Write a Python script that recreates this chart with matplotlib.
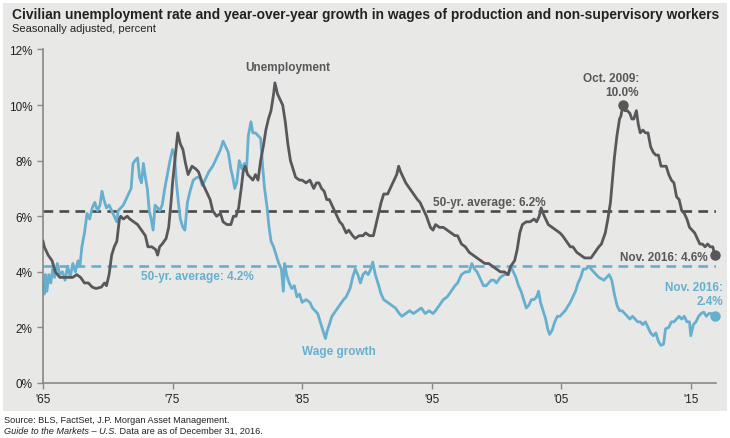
import matplotlib
matplotlib.use("Agg")
import matplotlib.pyplot as plt
from matplotlib.patches import Rectangle

# unemployment rate, percent (decimal year, value)
unemp_years = [1965.0, 1965.1, 1965.4, 1965.7, 1965.95, 1966.3, 1966.7, 1967.0, 1967.3, 1967.6, 1967.9,
               1968.2, 1968.5, 1968.8, 1969.1, 1969.5, 1969.75, 1969.9, 1970.1, 1970.3, 1970.5, 1970.7,
               1970.9, 1971.0, 1971.2, 1971.5, 1971.7, 1972.0, 1972.3, 1972.6, 1972.9, 1973.1, 1973.4,
               1973.7, 1973.85, 1974.0, 1974.2, 1974.5, 1974.7, 1974.9, 1975.0, 1975.2, 1975.4, 1975.6,
               1975.8, 1976.0, 1976.2, 1976.5, 1976.8, 1977.0, 1977.3, 1977.6, 1977.9, 1978.1, 1978.4,
               1978.7, 1978.9, 1979.2, 1979.5, 1979.7, 1979.9, 1980.1, 1980.3, 1980.45, 1980.6, 1980.8,
               1981.0, 1981.2, 1981.4, 1981.6, 1981.8, 1982.0, 1982.2, 1982.4, 1982.6, 1982.8, 1982.9,
               1983.1, 1983.3, 1983.5, 1983.7, 1983.9, 1984.1, 1984.3, 1984.5, 1984.8, 1985.0, 1985.3,
               1985.6, 1985.9, 1986.1, 1986.3, 1986.5, 1986.7, 1986.9, 1987.1, 1987.4, 1987.7, 1987.9,
               1988.1, 1988.4, 1988.6, 1988.9, 1989.1, 1989.4, 1989.7, 1989.9, 1990.2, 1990.5, 1990.7,
               1990.9, 1991.1, 1991.3, 1991.6, 1991.9, 1992.1, 1992.3, 1992.45, 1992.6, 1992.8, 1993.0,
               1993.3, 1993.6, 1993.9, 1994.1, 1994.3, 1994.6, 1994.9, 1995.1, 1995.3, 1995.6, 1995.9,
               1996.2, 1996.5, 1996.8, 1997.0, 1997.3, 1997.6, 1997.9, 1998.2, 1998.5, 1998.8, 1999.1,
               1999.4, 1999.7, 2000.0, 2000.3, 2000.6, 2000.9, 2001.1, 2001.4, 2001.6, 2001.8, 2002.0,
               2002.3, 2002.6, 2002.9, 2003.1, 2003.3, 2003.45, 2003.6, 2003.8, 2004.0, 2004.3, 2004.6,
               2004.9, 2005.1, 2005.4, 2005.7, 2005.9, 2006.2, 2006.5, 2006.8, 2007.0, 2007.3, 2007.6,
               2007.9, 2008.1, 2008.4, 2008.6, 2008.8, 2008.95, 2009.1, 2009.3, 2009.5, 2009.6, 2009.77,
               2009.9, 2010.1, 2010.3, 2010.45, 2010.6, 2010.8, 2010.95, 2011.1, 2011.3, 2011.5, 2011.7,
               2011.9, 2012.1, 2012.3, 2012.5, 2012.7, 2012.9, 2013.1, 2013.3, 2013.5, 2013.7, 2013.9,
               2014.1, 2014.3, 2014.5, 2014.7, 2014.9, 2015.1, 2015.3, 2015.5, 2015.7, 2015.9, 2016.1,
               2016.3, 2016.5, 2016.7, 2016.85]
unemp = [5.1, 4.9, 4.6, 4.4, 4.0, 3.8, 3.8, 3.8, 3.8, 3.9, 3.8,
         3.6, 3.6, 3.45, 3.4, 3.45, 3.6, 3.5, 3.9, 4.6, 4.9, 5.1,
         5.9, 6.0, 5.9, 6.0, 5.9, 5.8, 5.7, 5.5, 5.3, 4.9, 4.9,
         4.8, 4.6, 4.9, 5.0, 5.2, 5.6, 6.6, 7.2, 8.1, 9.0, 8.6,
         8.4, 7.9, 7.5, 7.8, 7.7, 7.6, 7.2, 6.9, 6.6, 6.2, 6.0,
         6.1, 5.8, 5.7, 5.7, 6.0, 6.0, 6.3, 7.0, 7.6, 7.8, 7.5,
         7.4, 7.3, 7.5, 7.3, 8.0, 8.5, 9.1, 9.5, 9.8, 10.4, 10.8,
         10.4, 10.2, 10.0, 9.4, 8.6, 8.0, 7.7, 7.4, 7.3, 7.3, 7.2,
         7.3, 7.0, 7.2, 7.2, 7.0, 6.9, 6.6, 6.6, 6.3, 6.0, 5.8,
         5.7, 5.4, 5.5, 5.3, 5.2, 5.3, 5.3, 5.4, 5.3, 5.3, 5.7,
         6.1, 6.5, 6.8, 6.8, 7.1, 7.3, 7.5, 7.8, 7.6, 7.4, 7.2,
         7.0, 6.8, 6.6, 6.5, 6.3, 6.0, 5.6, 5.5, 5.7, 5.6, 5.6,
         5.5, 5.4, 5.3, 5.3, 5.0, 4.9, 4.7, 4.6, 4.5, 4.4, 4.3,
         4.3, 4.2, 4.1, 4.0, 4.0, 3.9, 4.2, 4.4, 4.8, 5.4, 5.7,
         5.8, 5.8, 5.9, 5.8, 6.0, 6.3, 6.1, 5.9, 5.7, 5.6, 5.5,
         5.4, 5.3, 5.1, 4.9, 4.9, 4.7, 4.6, 4.5, 4.5, 4.5, 4.7,
         4.9, 5.0, 5.4, 5.9, 6.5, 7.3, 8.1, 8.9, 9.5, 9.6, 10.0,
         9.8, 9.8, 9.7, 9.5, 9.5, 9.8, 9.3, 9.0, 9.1, 9.0, 9.0,
         8.5, 8.3, 8.2, 8.2, 7.8, 7.8, 7.8, 7.5, 7.3, 7.2, 6.7,
         6.6, 6.2, 6.1, 5.9, 5.6, 5.5, 5.4, 5.2, 5.0, 5.0, 4.9,
         5.0, 4.9, 4.9, 4.6]

# year-over-year wage growth, percent
wage_years = [1965.0, 1965.1, 1965.2, 1965.3, 1965.45, 1965.6, 1965.75, 1965.9, 1966.1, 1966.3, 1966.5,
              1966.7, 1966.9, 1967.1, 1967.3, 1967.5, 1967.7, 1967.85, 1968.0, 1968.2, 1968.4, 1968.6,
              1968.8, 1969.0, 1969.2, 1969.4, 1969.55, 1969.7, 1969.9, 1970.1, 1970.3, 1970.5, 1970.7,
              1970.8, 1971.0, 1971.2, 1971.4, 1971.6, 1971.8, 1971.95, 1972.1, 1972.3, 1972.45, 1972.6,
              1972.75, 1972.9, 1973.05, 1973.2, 1973.35, 1973.5, 1973.65, 1973.85, 1974.0, 1974.2, 1974.4,
              1974.6, 1974.8, 1975.0, 1975.15, 1975.3, 1975.45, 1975.6, 1975.8, 1975.95, 1976.15, 1976.35,
              1976.6, 1976.9, 1977.1, 1977.3, 1977.5, 1977.8, 1978.1, 1978.4, 1978.7, 1978.9, 1979.1,
              1979.3, 1979.5, 1979.65, 1979.8, 1979.95, 1980.15, 1980.35, 1980.55, 1980.7, 1980.85, 1981.05,
              1981.2, 1981.4, 1981.6, 1981.8, 1981.95, 1982.1, 1982.3, 1982.45, 1982.6, 1982.8, 1983.0,
              1983.2, 1983.4, 1983.55, 1983.65, 1983.8, 1984.0, 1984.2, 1984.4, 1984.6, 1984.8, 1985.0,
              1985.3, 1985.6, 1985.8, 1986.0, 1986.2, 1986.4, 1986.6, 1986.8, 1986.95, 1987.1, 1987.3,
              1987.6, 1987.9, 1988.2, 1988.4, 1988.7, 1988.9, 1989.1, 1989.3, 1989.5, 1989.7, 1989.9,
              1990.1, 1990.3, 1990.45, 1990.65, 1990.85, 1991.1, 1991.3, 1991.6, 1991.9, 1992.2, 1992.5,
              1992.7, 1993.0, 1993.3, 1993.6, 1993.9, 1994.2, 1994.5, 1994.8, 1995.1, 1995.3, 1995.6,
              1995.9, 1996.2, 1996.5, 1996.8, 1997.0, 1997.3, 1997.6, 1997.9, 1998.1, 1998.3, 1998.5,
              1998.8, 1999.0, 1999.2, 1999.4, 1999.6, 1999.8, 2000.0, 2000.3, 2000.6, 2000.9, 2001.1,
              2001.3, 2001.5, 2001.7, 2001.9, 2002.1, 2002.3, 2002.5, 2002.7, 2002.9, 2003.1, 2003.25,
              2003.4, 2003.6, 2003.8, 2003.95, 2004.1, 2004.3, 2004.5, 2004.7, 2004.9, 2005.1, 2005.3,
              2005.5, 2005.7, 2005.9, 2006.1, 2006.3, 2006.5, 2006.7, 2006.9, 2007.1, 2007.3, 2007.5,
              2007.7, 2007.9, 2008.1, 2008.3, 2008.5, 2008.7, 2008.9, 2009.1, 2009.3, 2009.5, 2009.7,
              2009.9, 2010.1, 2010.3, 2010.5, 2010.7, 2010.9, 2011.1, 2011.3, 2011.5, 2011.7, 2011.9,
              2012.1, 2012.3, 2012.5, 2012.7, 2012.9, 2013.05, 2013.3, 2013.5, 2013.7, 2013.9, 2014.1,
              2014.3, 2014.5, 2014.7, 2014.9, 2015.0, 2015.2, 2015.4, 2015.6, 2015.8, 2016.0, 2016.2,
              2016.4, 2016.6, 2016.85]
wage = [3.5, 3.2, 3.9, 3.3, 3.9, 3.6, 4.1, 3.8, 4.3, 3.9, 4.0,
        3.7, 4.2, 3.8, 4.3, 4.0, 4.4, 4.2, 4.9, 5.4, 6.1, 5.9,
        6.3, 6.5, 6.2, 6.4, 6.9, 6.6, 6.3, 6.4, 6.2, 6.0, 5.8,
        6.2, 6.3, 6.4, 6.6, 6.8, 7.0, 7.9, 8.0, 8.1, 7.4, 7.2,
        7.9, 7.4, 7.0, 6.2, 5.9, 5.5, 6.4, 6.3, 6.2, 6.4, 7.0,
        7.5, 8.0, 8.4, 8.2, 7.2, 6.5, 5.9, 5.6, 5.5, 6.5, 6.9,
        7.3, 7.4, 7.4, 7.1, 7.3, 7.6, 7.8, 8.1, 8.4, 8.7, 8.5,
        8.3, 7.7, 7.4, 7.0, 7.2, 8.0, 7.7, 7.9, 7.6, 8.9, 9.4,
        9.0, 9.0, 8.9, 8.8, 7.8, 7.0, 6.3, 5.6, 5.1, 4.9, 4.6,
        4.3, 4.1, 3.3, 4.3, 3.9, 3.6, 3.4, 3.5, 3.1, 3.2, 2.9,
        3.0, 2.9, 2.7, 2.6, 2.5, 2.2, 1.9, 1.6, 1.9, 2.1, 2.4,
        2.6, 2.8, 3.0, 3.1, 3.4, 3.8, 4.1, 3.9, 3.6, 3.9, 4.0,
        3.9, 4.1, 4.35, 3.9, 3.6, 3.2, 3.0, 2.9, 2.8, 2.7, 2.5,
        2.4, 2.5, 2.6, 2.5, 2.6, 2.7, 2.5, 2.6, 2.5, 2.6, 2.8,
        3.0, 3.1, 3.3, 3.5, 3.6, 3.9, 4.0, 4.0, 4.3, 4.1, 4.0,
        3.7, 3.5, 3.5, 3.6, 3.7, 3.7, 3.6, 3.8, 3.9, 3.9, 4.2,
        4.0, 3.8, 3.5, 3.3, 3.0, 2.7, 2.8, 3.0, 3.0, 3.1, 3.3,
        2.9, 2.6, 2.3, 1.95, 1.75, 1.9, 2.2, 2.4, 2.4, 2.5, 2.6,
        2.75, 2.9, 3.1, 3.3, 3.6, 3.8, 4.1, 4.1, 4.2, 4.1, 4.0,
        3.9, 3.8, 3.75, 3.7, 3.8, 3.9, 3.7, 3.2, 2.8, 2.6, 2.6,
        2.5, 2.4, 2.3, 2.4, 2.3, 2.2, 2.2, 2.1, 2.2, 2.0, 1.8,
        1.7, 1.8, 1.5, 1.35, 1.4, 1.95, 2.0, 2.2, 2.2, 2.3, 2.4,
        2.3, 2.4, 2.2, 2.2, 1.7, 2.1, 2.2, 2.4, 2.5, 2.55, 2.4,
        2.5, 2.5, 2.4]

unemp_avg = 6.2
wage_avg = 4.2
peak_year, peak_value = 2009.77, 10.0
last_year = 2016.85
tick_years = [1965, 1975, 1985, 1995, 2005, 2015]
tick_labels = ["'65", "'75", "'85", "'95", "'05", "'15"]
y_ticks = [0, 2, 4, 6, 8, 10, 12]

GRAY = "#58585a"
BLUE = "#67afcf"
TXT = "#222222"

plt.rcParams["font.family"] = ["Liberation Sans", "DejaVu Sans"]
plt.rcParams["lines.scale_dashes"] = False

fig = plt.figure(figsize=(7.30, 4.39), dpi=100)
fig.patch.set_facecolor("white")
fig.patches.append(Rectangle((0.004, 0.0626), 0.992, 0.928, transform=fig.transFigure,
                             facecolor="#e8e8e6", edgecolor="none", zorder=-10))

ax = fig.add_axes([0.0589, 0.1253, 0.922, 0.7597])
ax.set_facecolor("none")

ax.axhline(unemp_avg, color="#4a4a4a", lw=1.9, dashes=(7, 4.5), zorder=1)
ax.axhline(wage_avg, color=BLUE, lw=1.9, dashes=(7, 4.5), zorder=1)
ax.plot(unemp_years, unemp, color=GRAY, lw=2.0, zorder=3)
ax.plot(wage_years, wage, color=BLUE, lw=2.0, zorder=2)

ax.plot(peak_year, peak_value, "o", color=GRAY, ms=6.5, zorder=4, clip_on=False)
ax.plot(last_year, unemp[-1], "o", color=GRAY, ms=6.5, zorder=4, clip_on=False)
ax.plot(last_year, wage[-1], "o", color=BLUE, ms=6.5, zorder=4, clip_on=False)

ax.set_xlim(1965, 2016.95)
ax.set_ylim(0, 12)
ax.set_xticks(tick_years)
ax.set_xticklabels(tick_labels)
ax.set_yticks(y_ticks)
ax.set_yticklabels([f"{v}%" for v in y_ticks])
ax.tick_params(axis="both", labelsize=8.5, colors="#888888", labelcolor=TXT, length=4, width=1)
ax.tick_params(axis="x", pad=3)
for side in ["top", "right"]:
    ax.spines[side].set_visible(False)
for side in ["left", "bottom"]:
    ax.spines[side].set_color("#888888")
    ax.spines[side].set_linewidth(1.2)

bold = dict(fontsize=8.5, fontweight="bold")
ax.text(1983.9, 11.37, "Unemployment", color=GRAY, ha="center", va="center", **bold)
ax.text(2011.0, 10.72, "Oct. 2009:\n10.0%", color=GRAY, ha="right", va="center",
        multialignment="right", linespacing=1.25, **bold)
ax.text(1995.1, 6.51, "50-yr. average: 6.2%", color=GRAY, ha="left", va="center", **bold)
ax.text(2016.3, 4.53, "Nov. 2016: 4.6%", color=GRAY, ha="right", va="center", **bold)
ax.text(1972.6, 3.85, "50-yr. average: 4.2%", color=BLUE, ha="left", va="center", **bold)
ax.text(1985.0, 1.15, "Wage growth", color=BLUE, ha="left", va="center", **bold)
ax.text(2017.5, 3.2, "Nov. 2016:\n2.4%", color=BLUE, ha="right", va="center",
        multialignment="right", linespacing=1.25, clip_on=False, **bold)

fig.text(0.016, 0.966, "Civilian unemployment rate and year-over-year growth in wages of production "
         "and non-supervisory workers", fontsize=9.9, fontweight="bold", color=TXT, va="center")
fig.text(0.016, 0.934, "Seasonally adjusted, percent", fontsize=8, color=TXT, va="center")

fig.text(0.006, 0.043, "Source: BLS, FactSet, J.P. Morgan Asset Management.", fontsize=6.6,
         color=TXT, va="center")
guide = fig.text(0.006, 0.018, "Guide to the Markets \u2013 U.S.", fontsize=6.6, style="italic",
                 color=TXT, va="center")
fig.canvas.draw()
ext = guide.get_window_extent()
fig.text(ext.x1 / fig.bbox.width, 0.018, " Data are as of December 31, 2016.", fontsize=6.6,
         color=TXT, va="center")

fig.savefig("out.png", dpi=100, facecolor=fig.get_facecolor())
